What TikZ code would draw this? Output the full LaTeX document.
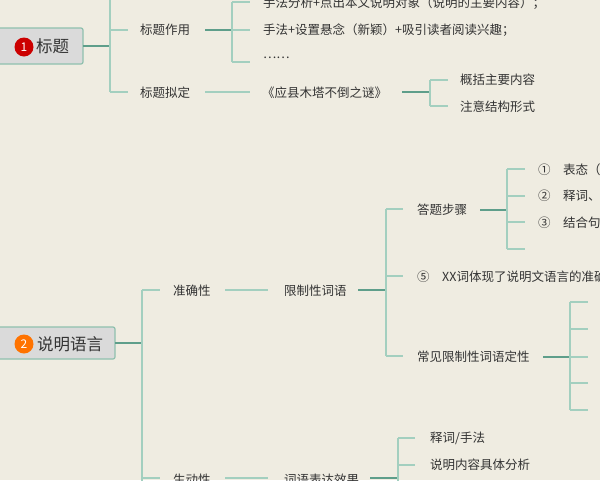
\documentclass[tikz,border=0pt]{standalone}
\usepackage{fontspec}
\setmainfont{Noto Sans CJK SC}
\definecolor{bg}{HTML}{EFECE1}
\definecolor{ln}{HTML}{A3CFBF}
\definecolor{dk}{HTML}{5E9E8A}
\definecolor{tx}{HTML}{333333}
\definecolor{boxf}{HTML}{DADADA}
\definecolor{boxd}{HTML}{8FC0AE}
\begin{document}
\begin{tikzpicture}[x=1pt,y=-1pt,
  lbl/.style={anchor=west,inner sep=0pt,font=\fontsize{12.5}{14}\selectfont,text=tx},
  big/.style={anchor=west,inner sep=0pt,font=\fontsize{16.5}{18}\selectfont,text=tx},
  br/.style={draw=ln,line width=1.2pt},
  dkl/.style={draw=dk,line width=1.4pt},
  rootbox/.style={draw=boxd,fill=boxf,line width=1.2pt,rounded corners=2pt},
  num/.style={circle,inner sep=0pt,minimum size=19pt,text=white,font=\fontsize{12}{12}\selectfont}]
\fill[bg] (0,0) rectangle (600,480);
\useasboundingbox (0,0) rectangle (600,480);
\clip (0,0) rectangle (600,480);
% ===== 1 标题
\draw[rootbox] (-3,28) rectangle (83,64);
\node[num,fill=red!80!black] (n1) at (24,47) {1};
\node[big] (t1) at (36,46) {标题};
\draw[dkl] (83,46) -- (110,46);
\draw[br] (110,-5) -- (110,92);
\draw[br] (110,30) -- (128,30);
\draw[br] (110,92) -- (128,92);
\node[lbl] (zy) at (140,30) {标题作用};
\node[lbl] (nd) at (140,93) {标题拟定};
\draw[dkl] (205,30) -- (232,30);
\draw[br] (232,2) -- (232,62);
\foreach \y in {2,30,62} \draw[br] (232,\y) -- (250,\y);
\node[lbl] (a1) at (263,3) {手法分析+点出本文说明对象（说明的主要内容）；};
\node[lbl] (a2) at (263,30) {手法+设置悬念（新颖）+吸引读者阅读兴趣；};
\node[lbl] (a3) at (263,58) {……};
\draw[br] (205,92) -- (250,92);
\node[lbl] (mt) at (262,93) {《应县木塔不倒之谜》};
\draw[dkl] (402,92) -- (430,92);
\draw[br] (430,80) -- (430,106) (430,80) -- (448,80) (430,106) -- (448,106);
\node[lbl] (b1) at (460,80) {概括主要内容};
\node[lbl] (b2) at (460,107) {注意结构形式};
% ===== 2 说明语言
\draw[rootbox] (-3,327) rectangle (115,359);
\node[num,fill=orange!90!red] (n2) at (24,344) {2};
\node[big] (t2) at (37,344) {说明语言};
\draw[dkl] (115,343) -- (142,343);
\draw[br] (142,290) -- (142,490);
\draw[br] (142,290) -- (160,290) (142,478) -- (160,478);
\node[lbl] (zq) at (173,291) {准确性};
\draw[br] (225,290) -- (268,290);
\node[lbl] (xz) at (284,291) {限制性词语};
\draw[dkl] (358,290) -- (386,290);
\draw[br] (386,209) -- (386,356);
\foreach \y in {209,276,356} \draw[br] (386,\y) -- (403,\y);
\node[lbl] (dt) at (417,210) {答题步骤};
\draw[dkl] (480,210) -- (507,210);
\draw[br] (507,169) -- (507,249);
\foreach \y in {169,196,222,249} \draw[br] (507,\y) -- (525,\y);
\node[lbl] (c1) at (538,170) {①\quad 表态（};
\node[lbl] (c2) at (538,196) {②\quad 释词、};
\node[lbl] (c3) at (538,223) {③\quad 结合句};
\node[lbl] (c5) at (417,277) {⑤\quad XX词体现了说明文语言的准确};
\node[lbl] (cj) at (417,357) {常见限制性词语定性};
\draw[dkl] (543,357) -- (570,357);
\draw[br] (570,302) -- (570,410);
\foreach \y in {302,329,357,383,410} \draw[br] (570,\y) -- (588,\y);
\node[lbl] (sd) at (173,480) {生动性};
\draw[br] (225,478) -- (268,478);
\node[lbl] (cy) at (284,480) {词语表达效果};
\draw[dkl] (370,478) -- (398,478);
\draw[br] (398,438) -- (398,490);
\foreach \y in {438,465} \draw[br] (398,\y) -- (415,\y);
\node[lbl] (d1) at (430,438) {释词/手法};
\node[lbl] (d2) at (430,465) {说明内容具体分析};
\end{tikzpicture}
\end{document}
